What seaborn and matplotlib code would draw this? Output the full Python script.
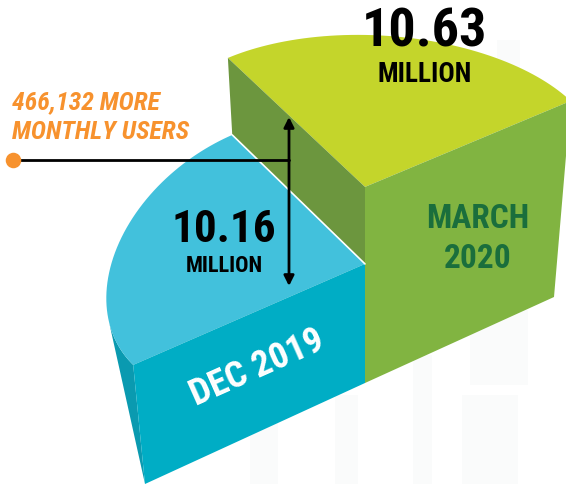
import numpy as np
import matplotlib
matplotlib.use('Agg')
import matplotlib.pyplot as plt
import seaborn as sns

# --- DATA ---
PERIODS = ["DEC 2019", "MARCH\n2020"]
USERS_MILLION = [10.16, 10.63]
VALUE_LABELS = ["10.16", "10.63"]
UNIT_LABEL = "MILLION"
DIFF_LABEL = "466,132 MORE\nMONTHLY USERS"

# --- GEOMETRY OF THE FAKE 3D PIE (pixel space) ---
CENTER = np.array([365.0, 383.0])
FOOT_LEFT = np.array([-220.0, 101.0])
FOOT_RIGHT = np.array([189.0, -86.0])
FOOT_BACK = np.array([-126.0, -129.0])
AXIS_FLOOR = 9.433   # truncated height axis
PX_PER_MILLION = 163.8
FLARE = 0.00045      # sides lean outwards as they go up

# colours
LIME, GREEN, OLIVE = "#C4D52B", "#81B441", "#6C963E"
SKY, TEAL, DARK_TEAL = "#42C1DC", "#00ADC5", "#0A9AB0"
DARK_GREEN, ORANGE, GHOST = "#1A6E3C", "#F7922E", "#FAFBFB"
FONT = ["Roboto Condensed", "Liberation Sans", "DejaVu Sans"]


def lift(foot, value):
    # move a footprint point up to the top of a slice of this value
    h = (value - AXIS_FLOOR) * PX_PER_MILLION
    s = 1 + FLARE * h
    return np.array([CENTER[0] + s * foot[0], CENTER[1] + foot[1] - h])


def arc(p0, p2, mid, weight, n=60):
    # rational quadratic curve for the outer rim of a slice
    t = np.linspace(0, 1, n)[:, None]
    ctrl = p0 + p2 - mid
    a, b, c = (1 - t) ** 2, 2 * weight * t * (1 - t), t ** 2
    return (a * p0 + b * ctrl + c * p2) / (a + b + c)


sns.set_style("white")
fig = plt.figure(figsize=(5.66, 4.84), dpi=100)
ax = fig.add_axes([0, 0, 1, 1])
ax.set_xlim(0, 566)
ax.set_ylim(484, 0)
ax.axis("off")

# pale building behind the pie
for x0, x1, y0, y1 in [(250, 278, 420, 484), (335, 358, 395, 484), (413, 432, 355, 484),
                       (462, 518, 395, 484), (470, 528, 310, 385), (497, 520, 40, 90)]:
    ax.fill([x0, x1, x1, x0], [y0, y0, y1, y1], color=GHOST, lw=0, zorder=0)

dec, mar = USERS_MILLION

# March slice
mar_c = lift(np.zeros(2), mar)
mar_r = lift(FOOT_RIGHT, mar)
mar_b = lift(FOOT_BACK, mar)
rim = arc(mar_r, mar_b, mar_c, 0.62)
ax.fill(*np.vstack([mar_c, rim]).T, color=LIME, lw=0, zorder=2)
ax.fill(*np.array([mar_c, mar_r, CENTER + FOOT_RIGHT, CENTER]).T, color=GREEN, lw=0, zorder=2)

# Dec slice
dec_c = lift(np.zeros(2), dec)
dec_l = lift(FOOT_LEFT, dec)
dec_b = lift(FOOT_BACK, dec)
ax.fill(*np.array([mar_b, mar_c, dec_c, dec_b]).T, color=OLIVE, lw=0, zorder=2)
rim = arc(dec_l, dec_b, dec_c, 0.55)
side = rim[rim[:, 1] > 317]
ax.fill(*np.vstack([side, CENTER + FOOT_LEFT]).T, color=DARK_TEAL, lw=0, zorder=3)
ax.fill(*np.vstack([dec_c, rim]).T, color=SKY, lw=0, zorder=4)
ax.fill(*np.array([dec_l, dec_c, CENTER, CENTER + FOOT_LEFT]).T, color=TEAL, lw=0, zorder=4)
ax.plot(*np.array([dec_b, dec_c]).T, color="white", lw=1.2, zorder=5)

# leader line and difference arrow
arrow_x = 289
lead_y = 160
sns.lineplot(x=[13, arrow_x], y=[lead_y, lead_y], color="black", lw=2, ax=ax, zorder=6,
             estimator=None, sort=False)
sns.scatterplot(x=[13], y=[lead_y], color=ORANGE, s=125, linewidth=0, ax=ax, zorder=7)
ax.annotate("", xy=(arrow_x, 117), xytext=(arrow_x, 286), zorder=6,
            arrowprops=dict(arrowstyle="<|-|>", color="black", lw=2, mutation_scale=15,
                            shrinkA=0, shrinkB=0))

# texts
txt = dict(family=FONT, weight="bold", ha="center", va="center", zorder=8)
ax.text(425, 32, VALUE_LABELS[1], fontsize=39, color="black", **txt)
ax.text(425, 75, UNIT_LABEL, fontsize=19.5, color="black", **txt)
ax.text(224, 230, VALUE_LABELS[0], fontsize=32.5, color="black", **txt)
ax.text(224, 266, UNIT_LABEL, fontsize=16, color="black", **txt)
ax.text(478, 239, PERIODS[1], fontsize=24, color=DARK_GREEN, linespacing=1.3, **txt)
ax.text(257, 368, PERIODS[0], fontsize=26.5, color="white", rotation=24,
        rotation_mode="anchor", **txt)
ax.text(12, 117, DIFF_LABEL, fontsize=18.5, color=ORANGE, style="italic", family=FONT,
        weight="bold", ha="left", va="center", linespacing=1.3, zorder=8)

fig.savefig("out.png", dpi=100, facecolor="white")
